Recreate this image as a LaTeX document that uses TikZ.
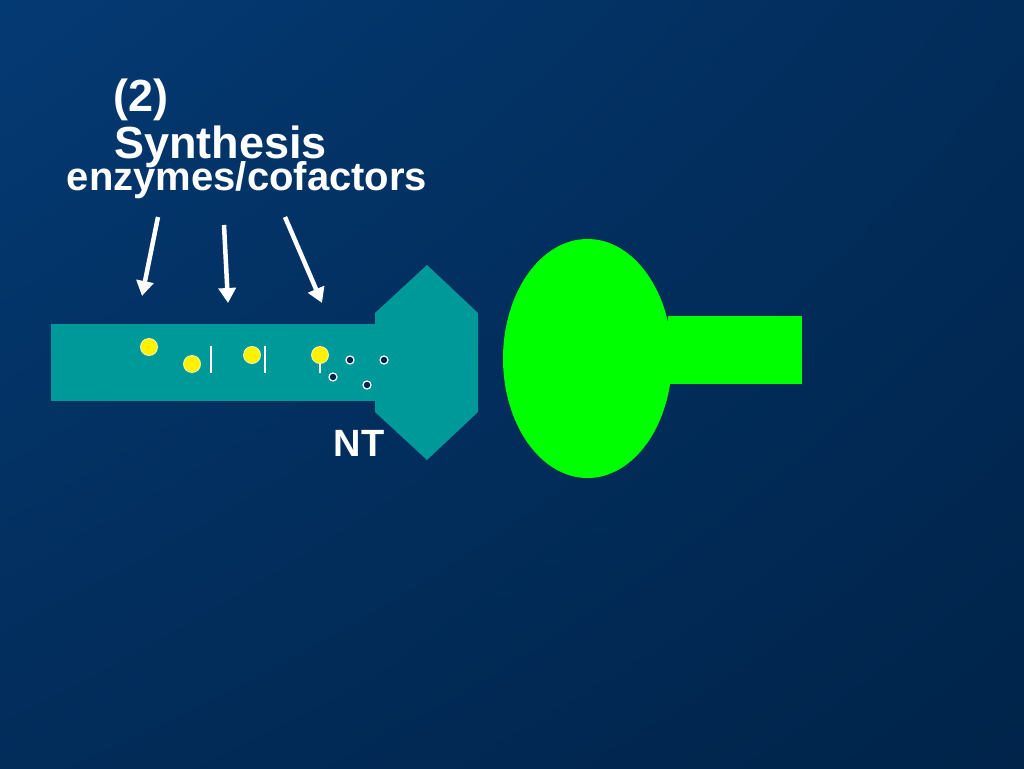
\documentclass[tikz,border=0pt]{standalone}
\usepackage{fontspec}
\setmainfont{Liberation Sans}
\usepackage{tikz}
\usetikzlibrary{arrows.meta, positioning, shapes.geometric, shadings}

\definecolor{bgtop}{RGB}{4,58,115}
\definecolor{bgmid}{RGB}{2,44,90}
\definecolor{bgbot}{RGB}{0,36,74}
\definecolor{axoncol}{RGB}{0,153,153}
\definecolor{spinecol}{RGB}{0,255,0}
\definecolor{dotcol}{RGB}{0,36,80}

\begin{document}
\begin{tikzpicture}[
    x=1pt, y=-1pt,
    axonpart/.style={rectangle, fill=axoncol, inner sep=0pt},
    spinepart/.style={fill=spinecol, inner sep=0pt},
    vesicle/.style={circle, draw=white!70!yellow, fill=yellow, line width=0.8pt, minimum size=17pt, inner sep=0pt},
    ntdot/.style={circle, draw=white, fill=dotcol, line width=1.2pt, minimum size=8pt, inner sep=0pt},
    bar/.style={white, line width=2.5pt},
    arrow/.style={-{Triangle[length=15pt, width=17pt]}, white, line width=4.5pt},
    label/.style={text=white, inner sep=0pt, font=\bfseries\fontsize{45}{47}\selectfont},
]

% Background
\useasboundingbox (0,0) rectangle (1024,768);
\shade[upper left=bgtop, upper right=bgmid, lower left=bgmid, lower right=bgbot] (0,0) rectangle (1024,768);

% Titles
\node[label, anchor=base west] (step) at (113,111) {(2)};
\node[label, anchor=base west] (synth) at (114,158) {Synthesis};
\node[label, anchor=base, font=\bfseries\fontsize{40}{44}\selectfont] (enzymes) at (247,190) {enzymes/cofactors};

% Axon and terminal
\node[axonpart, anchor=north west, minimum width=324pt, minimum height=77pt] (axon) at (51,324) {};
\fill[axoncol] (427,265) coordinate (termtop) -- (478,313) -- (478,412) -- (427,460) coordinate (termbot)
    -- (375,412) -- (375,313) -- cycle;

% Postsynaptic spine
\node[spinepart, anchor=west, minimum width=134pt, minimum height=68pt] (neck) at (668,350) {};
\node[spinepart, ellipse, minimum width=169pt, minimum height=239pt] (head) at (587.5,358.5) {};

% Enzyme arrows
\coordinate (from1) at (158,217);
\coordinate (to1) at (142,296);
\coordinate (from2) at (224,225);
\coordinate (to2) at (228,303);
\coordinate (from3) at (285,217);
\coordinate (to3) at (322,303);
\draw[arrow] (from1) -- (to1);
\draw[arrow] (from2) -- (to2);
\draw[arrow] (from3) -- (to3);

% Bars behind vesicles
\coordinate (bar1a) at (211,346);
\coordinate (bar1b) at (211,373);
\coordinate (bar2a) at (265,346);
\coordinate (bar2b) at (265,373);
\coordinate (bar3a) at (320,346);
\coordinate (bar3b) at (320,373);
\draw[bar] (bar1a) -- (bar1b);
\draw[bar] (bar2a) -- (bar2b);
\draw[bar] (bar3a) -- (bar3b);

% Vesicles
\node[vesicle] (ves1) at (149,347) {};
\node[vesicle] (ves2) at (192,364) {};
\node[vesicle] (ves3) at (252,355) {};
\node[vesicle] (ves4) at (320,355) {};

% Transmitter molecules
\node[ntdot] (nt1) at (350,360) {};
\node[ntdot] (nt2) at (333,377) {};
\node[ntdot] (nt3) at (384,360) {};
\node[ntdot] (nt4) at (367,385) {};

\node[label, anchor=base, font=\bfseries\fontsize{38}{40}\selectfont] (ntlabel) at (359,456) {NT};

\end{tikzpicture}
\end{document}
